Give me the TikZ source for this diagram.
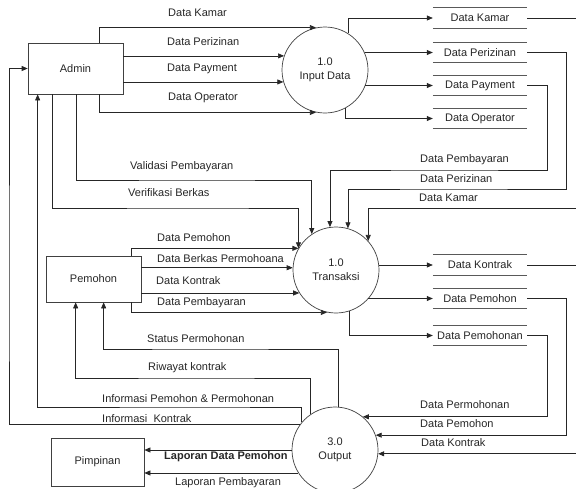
\documentclass[tikz,border=0pt]{standalone}
\usepackage{fontspec}
\setmainfont{Liberation Sans}
\usetikzlibrary{arrows.meta}
\begin{document}
\begin{tikzpicture}[x=1pt,y=-1pt,font=\fontsize{11}{14}\selectfont,
  ent/.style={draw=black!75,line width=0.7pt,inner sep=0pt,text=black!85},
  proc/.style={circle,draw=black!75,line width=0.7pt,minimum size=86pt,inner sep=0pt,align=center,text=black!85},
  store/.style={minimum width=94pt,minimum height=20pt,inner sep=0pt,text=black!85},
  storeline/.style={draw=black!65,line width=0.8pt},
  flow/.style={draw=black!85,line width=0.7pt,-{Triangle[length=6pt,width=5pt]}},
  plain/.style={draw=black!85,line width=0.7pt},
  lbl/.style={anchor=west,inner sep=0pt,text=black!85}]
\useasboundingbox (0,0) rectangle (576,488);

% entities
\node[ent,minimum width=95pt,minimum height=51pt] (adm) at (75.5,68.5) {Admin};
\node[ent,minimum width=95pt,minimum height=46pt] (pem) at (93.5,279) {Pemohon};
\node[ent,minimum width=93pt,minimum height=48pt] (pim) at (97.5,462) {Pimpinan};

% processes
\node[proc] (p1) at (325,70) {1.0\\Input Data};
\node[proc] (p2) at (336,270) {1.0\\Transaksi};
\node[proc] (p3) at (335,450) {3.0\\Output};

% data stores
\node[store] (sKamar) at (480,18) {Data Kamar};
\node[store] (sIzin) at (480,52.5) {Data Perizinan};
\node[store] (sPay) at (480,85.5) {Data Payment};
\node[store] (sOp) at (480,118.5) {Data Operator};
\node[store] (sKontrak) at (480,265) {Data Kontrak};
\node[store] (sPemohon) at (480,298.5) {Data Pemohon};
\node[store] (sPermohonan) at (480,335.5) {Data Pemohonan};
\foreach \s in {sKamar,sIzin,sPay,sOp,sKontrak,sPemohon,sPermohonan}
  \draw[storeline] (\s.north west) -- (\s.north east) (\s.south west) -- (\s.south east);

% free ends at the right edge
\coordinate (eKamar) at (576,18);
\coordinate (inKamar) at (576,208);
\coordinate (eKontrak) at (576,265);
\coordinate (inKontrak) at (576,454);

% Admin -> 1.0 Input Data
\draw[flow] ([xshift=72pt]adm.north west) |- (p1.102);
\draw[flow] (adm.east |- p1.161) -- (p1.161);
\draw[flow] (adm.east |- p1.196) -- (p1.196);
\draw[flow] ([xshift=72pt]adm.south west) |- (p1.258);

% Input Data -> stores
\draw[flow] (p1.58) |- (sKamar.west);
\draw[flow] (p1.24 |- sIzin.west) -- (sIzin.west);
\draw[flow] (p1.339 |- sPay.west) -- (sPay.west);
\draw[flow] (p1.298) |- (sOp.west);

% stores -> Transaksi
\draw[plain] (sKamar.east) -- (eKamar);
\draw[flow] (sIzin.east) -- ++(39,0) |- (450,189) -| (p2.74);
\draw[flow] (sPay.east) -- ++(20,0) |- (450,170) -| (p2.98);
\draw[flow] (inKamar) -| (p2.42);

% Admin -> Transaksi
\draw[flow] ([xshift=49pt]adm.south west) |- (200,180) -| (p2.124);
\draw[flow] ([xshift=25pt]adm.south west) |- (200,208) -| (p2.150);

% Pemohon -> Transaksi
\draw[flow] ([xshift=86pt]pem.north west) |- (p2.150);
\draw[flow] (pem.east |- p2.177) -- (p2.177);
\draw[flow] (pem.east |- p2.212) -- (p2.212);
\draw[flow] ([xshift=86pt]pem.south west) |- (p2.258);

% Transaksi -> stores
\draw[flow] (p2.7 |- sKontrak.west) -- (sKontrak.west);
\draw[flow] (p2.318 |- sPemohon.west) -- (sPemohon.west);
\draw[flow] (p2.288) |- (sPermohonan.west);

% stores -> Output
\draw[plain] (sKontrak.east) -- (eKontrak);
\draw[flow] (sPemohon.east) -- ++(39,0) |- (p3.20);
\draw[flow] (sPermohonan.east) -- ++(20,0) |- (p3.50);
\draw[flow] (p3.355 -| inKontrak) -- (p3.355);

% Output -> entities
\draw[flow] (p3.85) |- (200,349) -| ([xshift=58pt]pem.south west);
\draw[flow] (p3.124) |- (200,378) -| ([xshift=30pt]pem.south west);
\draw[flow] (p3.140) |- (200,407) -| ([xshift=10pt]adm.south west);
\draw[flow] (p3.144) -| (9,300) |- (adm.west);
\draw[flow] (p3.180) -- (pim.east |- p3.180);
\draw[flow] (p3.212) -- (pim.east |- p3.212);

% labels
\node[lbl] (l1) at (168,13) {Data Kamar};
\node[lbl] (l2) at (167,42) {Data Perizinan};
\node[lbl] (l3) at (167,69) {Data Payment};
\node[lbl] (l4) at (168,98) {Data Operator};
\node[lbl] (l5) at (130,167) {Validasi Pembayaran};
\node[lbl] (l6) at (128,193) {Verifikasi Berkas};
\node[lbl] (l7) at (420,160) {Data Pembayaran};
\node[lbl] (l8) at (420,179) {Data Perizinan};
\node[lbl] (l9) at (419,198) {Data Kamar};
\node[lbl] (l10) at (157,238) {Data Pemohon};
\node[lbl] (l11) at (157,259) {Data Berkas Permohoana};
\node[lbl] (l12) at (156,281) {Data Kontrak};
\node[lbl] (l13) at (157,303) {Data Pembayaran};
\node[lbl] (l14) at (147,339) {Status Permohonan};
\node[lbl] (l15) at (148,368) {Riwayat kontrak};
\node[lbl] (l16) at (102,399) {Informasi Pemohon \& Permohonan};
\node[lbl] (l17) at (102,419) {Informasi\ \ Kontrak};
\node[lbl] (l18) at (420,405) {Data Permohonan};
\node[lbl] (l19) at (420,424) {Data Pemohon};
\node[lbl] (l20) at (421,443) {Data Kontrak};
\node[lbl,font=\fontsize{11}{14}\selectfont\bfseries] (l21) at (164,457) {Laporan Data Pemohon};
\node[lbl] (l22) at (175,483) {Laporan Pembayaran};
\end{tikzpicture}
\end{document}
